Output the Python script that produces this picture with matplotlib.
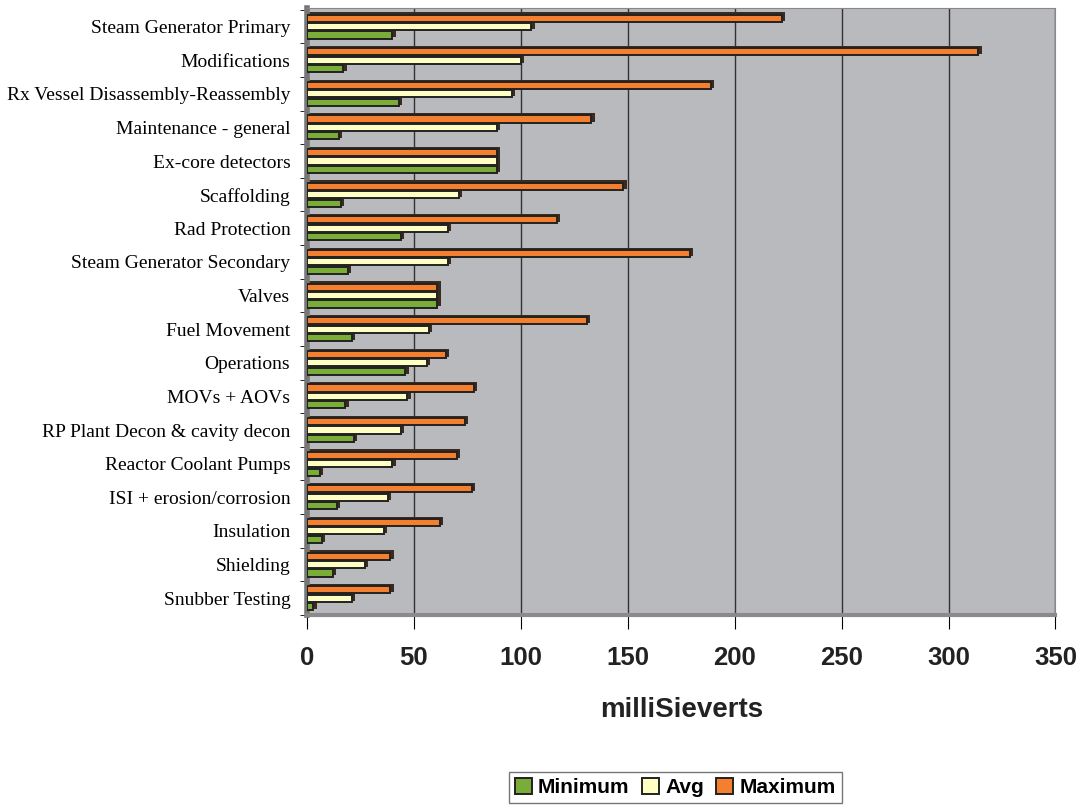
import matplotlib.pyplot as plt
import numpy as np

categories = ["Steam Generator Primary", "Modifications", "Rx Vessel Disassembly-Reassembly",
              "Maintenance - general", "Ex-core detectors", "Scaffolding", "Rad Protection",
              "Steam Generator Secondary", "Valves", "Fuel Movement", "Operations",
              "MOVs + AOVs", "RP Plant Decon & cavity decon", "Reactor Coolant Pumps",
              "ISI + erosion/corrosion", "Insulation", "Shielding", "Snubber Testing"]
minimum = [40, 17, 43, 15, 89, 16, 44, 19, 61, 21, 46, 18, 22, 6, 14, 7, 12, 3]
avg = [105, 100, 96, 89, 89, 71, 66, 66, 61, 57, 56, 47, 44, 40, 38, 36, 27, 21]
maximum = [222, 314, 189, 133, 89, 148, 117, 179, 61, 131, 65, 78, 74, 70, 77, 62, 39, 39]
xticks = [0, 50, 100, 150, 200, 250, 300, 350]

fig = plt.figure(figsize=(10.77, 8.06), dpi=100)
ax = fig.add_axes([0.285, 0.237, 0.695, 0.753])
ax.set_facecolor("#b9babe")

y = np.arange(len(categories))
h = 0.25
series = [(maximum, -h, "#f47f2f", "Maximum"),
          (avg, 0, "#ffffc4", "Avg"),
          (minimum, h, "#7aac38", "Minimum")]
bars = {}
for vals, off, col, name in series:
    # dark shadow for the 3D look
    ax.barh(y + off - 0.05, np.array(vals) + 1.5, height=h, color="#3a2a20", zorder=2)
    bars[name] = ax.barh(y + off, vals, height=h * 0.85, color=col, edgecolor="#222222",
                         linewidth=1.4, zorder=3)

ax.set_xlim(0, 350)
ax.set_ylim(len(categories) - 0.5, -0.55)
ax.set_xticks(xticks)
ax.set_xticklabels([str(t) for t in xticks], fontsize=18.5, fontweight="bold",
                   family="Liberation Sans", color="#222222")
ax.tick_params(axis="x", length=10, pad=12)
ax.set_yticks(y)
ax.set_yticklabels(categories, fontsize=14, family="Liberation Serif")
ax.set_yticks(np.arange(len(categories) + 1) - 0.5, minor=True)
ax.tick_params(axis="y", which="major", length=0, pad=12)
ax.tick_params(axis="y", which="minor", length=5)
ax.grid(axis="x", color="#333333", linewidth=1.0, zorder=1)
ax.set_axisbelow(True)
for s in ["top", "right"]:
    ax.spines[s].set_color("#888888")
ax.spines["left"].set_linewidth(4)
ax.spines["left"].set_color("#777777")
ax.spines["bottom"].set_linewidth(3)
ax.spines["bottom"].set_color("#8a8a8a")

ax.set_xlabel("milliSieverts", fontsize=20, fontweight="bold", family="Liberation Sans",
              labelpad=20, color="#222222")

handles = [bars["Minimum"], bars["Avg"], bars["Maximum"]]
leg = fig.legend(handles, ["Minimum", "Avg", "Maximum"], loc="center",
                 bbox_to_anchor=(0.627, 0.023), ncol=3, frameon=True, fancybox=False,
                 handlelength=0.8, handleheight=0.8, handletextpad=0.3, columnspacing=0.6,
                 prop={"family": "Liberation Sans", "weight": "bold", "size": 15},
                 borderpad=0.3)
leg.get_frame().set_edgecolor("#555555")

fig.savefig("out.png", dpi=100)
